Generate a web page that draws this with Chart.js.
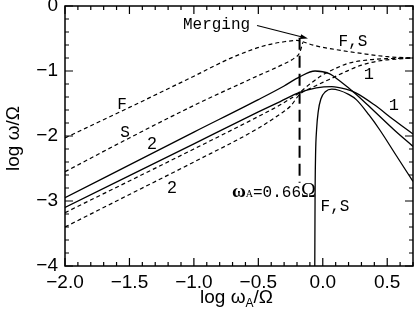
<!DOCTYPE html>
<html>
<head>
<meta charset="utf-8">
<script src="https://cdn.jsdelivr.net/npm/chart.js@4.4.1/dist/chart.umd.min.js"></script>
<style>
  html, body { margin: 0; padding: 0; background: #fff; }
</style>
</head>
<body>
<canvas id="chart" width="415" height="313"></canvas>
<script>
// x = log wA/Omega, y = log w/Omega

// upper dashed branches, merging near wA = 0.66 Omega
const fX = [-2.0, -1.5, -1.0, -0.7, -0.45, -0.3, -0.2, -0.155];
const fY = [-2.03, -1.56, -1.08, -0.79, -0.61, -0.55, -0.53, -0.55];
const sX = [-2.0, -1.5, -1.0, -0.5, -0.3, -0.22, -0.18, -0.155];
const sY = [-2.55, -2.03, -1.53, -1.07, -0.89, -0.8, -0.72, -0.56];
const fsX = [-0.155, -0.06, 0.1, 0.3, 0.5, 0.7];
const fsY = [-0.55, -0.61, -0.67, -0.73, -0.78, -0.8];

// solid curves
const aX = [-2.0, -1.0, -0.5, -0.3, -0.18, -0.06, 0.05, 0.13, 0.26, 0.4, 0.55, 0.7];
const aY = [-2.95, -1.94, -1.44, -1.23, -1.09, -1.0, -1.04, -1.15, -1.36, -1.62, -1.9, -2.16];
const bX = [-2.0, -1.0, -0.5, -0.33, -0.18, -0.05, 0.07, 0.18, 0.26, 0.4, 0.55, 0.7];
const bY = [-3.1, -2.12, -1.63, -1.47, -1.33, -1.26, -1.24, -1.28, -1.34, -1.52, -1.75, -1.97];
const eX = [-0.062, -0.06, -0.056, -0.048, -0.035, -0.015, 0.02, 0.07, 0.13, 0.2, 0.26, 0.36, 0.44, 0.57, 0.7];
const eY = [-4.0, -3.0, -2.3, -1.9, -1.62, -1.43, -1.32, -1.28, -1.3, -1.36, -1.44, -1.68, -1.9, -2.3, -2.7];

// lower dashed curves
const cX = [-2.0, -1.0, -0.5, -0.33, -0.18, -0.1, 0.0, 0.1, 0.2, 0.35, 0.5, 0.7];
const cY = [-3.18, -2.2, -1.7, -1.52, -1.33, -1.2, -1.06, -0.96, -0.88, -0.83, -0.81, -0.8];
const dX = [-2.0, -1.5, -1.0, -0.5, -0.33, -0.25, -0.18, -0.1, 0.05, 0.2, 0.3, 0.45, 0.7];
const dY = [-3.4, -2.9, -2.4, -1.88, -1.66, -1.54, -1.36, -1.27, -1.13, -0.99, -0.91, -0.84, -0.8];

// vertical marker at log 0.66
const vX = [-0.18, -0.18];
const vY = [-0.49, -2.72];

// axes
const xTicks = [-2.0, -1.5, -1.0, -0.5, 0.0, 0.5];
const yTicks = [0, -1, -2, -3, -4];
const xMinorStep = 0.1;
const yMinorStep = 0.2;

const pts = (xs, ys) => xs.map((x, i) => ({ x: x, y: ys[i] }));
const minus = v => (v < 0 ? '\u2212' : '');

function curve(xs, ys, dashed) {
  return {
    data: pts(xs, ys),
    borderColor: '#000',
    borderWidth: dashed ? 1.2 : 1.3,
    borderDash: dashed ? [4, 3] : [],
    pointRadius: 0,
    showLine: true,
    fill: false,
    cubicInterpolationMode: 'monotone',
  };
}

// text labels placed in data units
const labels = [
  { t: 'Merging', x: -1.085, y: -0.285, font: '16px "Liberation Mono"', align: 'left' },
  { t: 'F', x: -1.558, y: -1.518, font: '16px "Liberation Mono"' },
  { t: 'S', x: -1.535, y: -1.95, font: '16px "Liberation Mono"' },
  { t: '2', x: -1.325, y: -2.134, font: '17px "Liberation Sans"' },
  { t: '2', x: -1.17, y: -2.8, font: '17px "Liberation Sans"' },
  { t: 'F,S', x: 0.234, y: -0.547, font: '16px "Liberation Mono"' },
  { t: '1', x: 0.358, y: -1.055, font: '17px "Liberation Mono"' },
  { t: '1', x: 0.552, y: -1.533, font: '17px "Liberation Mono"' },
  { t: 'F,S', x: 0.095, y: -3.089, font: '16px "Liberation Mono"' },
];

function drawParts(ctx, parts, x, y) {
  let cx = x;
  parts.forEach(p => {
    ctx.font = p.font;
    ctx.fillText(p.t, cx, y + (p.dy || 0));
    cx += ctx.measureText(p.t).width;
  });
}

const framePlugin = {
  id: 'frame',
  afterDatasetsDraw(chart) {
    const { ctx, chartArea: a, scales: { x, y } } = chart;
    ctx.save();
    ctx.strokeStyle = '#000';
    ctx.fillStyle = '#000';
    ctx.lineWidth = 1.5;
    ctx.strokeRect(a.left, a.top, a.right - a.left, a.bottom - a.top);

    // inward ticks on all four sides
    ctx.lineWidth = 1.2;
    ctx.beginPath();
    for (let i = 0; -2 + i * xMinorStep <= 0.7 + 1e-9; i++) {
      const px = x.getPixelForValue(-2 + i * xMinorStep);
      const len = i % 5 === 0 ? 8 : 4;
      ctx.moveTo(px, a.bottom); ctx.lineTo(px, a.bottom - len);
      ctx.moveTo(px, a.top); ctx.lineTo(px, a.top + len);
    }
    for (let i = 0; i * yMinorStep <= 4 + 1e-9; i++) {
      const py = y.getPixelForValue(-i * yMinorStep);
      const len = i % 5 === 0 ? 8 : 4;
      ctx.moveTo(a.left, py); ctx.lineTo(a.left + len, py);
      ctx.moveTo(a.right, py); ctx.lineTo(a.right - len, py);
    }
    ctx.stroke();

    // annotation texts
    ctx.textBaseline = 'middle';
    labels.forEach(l => {
      ctx.font = l.font;
      ctx.textAlign = l.align || 'center';
      ctx.fillText(l.t, x.getPixelForValue(l.x), y.getPixelForValue(l.y));
    });

    // arrow to the merging point
    const x0 = x.getPixelForValue(-0.51), y0 = y.getPixelForValue(-0.3);
    const x1 = x.getPixelForValue(-0.115), y1 = y.getPixelForValue(-0.5);
    const ang = Math.atan2(y1 - y0, x1 - x0);
    ctx.lineWidth = 1.2;
    ctx.beginPath();
    ctx.moveTo(x0, y0);
    ctx.lineTo(x1 - 6 * Math.cos(ang), y1 - 6 * Math.sin(ang));
    ctx.stroke();
    ctx.beginPath();
    ctx.moveTo(x1, y1);
    ctx.lineTo(x1 - 8 * Math.cos(ang - 0.3), y1 - 8 * Math.sin(ang - 0.3));
    ctx.lineTo(x1 - 8 * Math.cos(ang + 0.3), y1 - 8 * Math.sin(ang + 0.3));
    ctx.closePath();
    ctx.fill();

    // omega_A = 0.66 Omega
    ctx.textAlign = 'left';
    ctx.textBaseline = 'alphabetic';
    drawParts(ctx, [
      { t: '\u03c9', font: 'bold 19px "Liberation Serif"' },
      { t: 'A', font: '10px "Liberation Serif"' },
      { t: '=0.66', font: '16px "Liberation Mono"' },
      { t: '\u03a9', font: '20px "Liberation Serif"' },
    ], x.getPixelForValue(-0.705), y.getPixelForValue(-2.935));

    // axis titles
    drawParts(ctx, [
      { t: 'log \u03c9', font: '19px "Liberation Sans"' },
      { t: 'A', font: '12px "Liberation Sans"', dy: 4 },
      { t: '/\u03a9', font: '19px "Liberation Sans"' },
    ], 200, 303);

    ctx.translate(19, 171);
    ctx.rotate(-Math.PI / 2);
    drawParts(ctx, [
      { t: 'log \u03c9/\u03a9', font: '19px "Liberation Sans"' },
    ], 0, 0);
    ctx.restore();
  }
};

new Chart(document.getElementById('chart'), {
  type: 'scatter',
  data: {
    datasets: [
      curve(fX, fY, true),
      curve(sX, sY, true),
      curve(fsX, fsY, true),
      curve(cX, cY, true),
      curve(dX, dY, true),
      curve(aX, aY, false),
      curve(bX, bY, false),
      curve(eX, eY, false),
      Object.assign(curve(vX, vY, true), {
        borderDash: [12, 6], borderWidth: 2, cubicInterpolationMode: 'default', tension: 0,
      }),
    ],
  },
  options: {
    responsive: false,
    animation: false,
    layout: { autoPadding: false, padding: { top: 6, right: 2, left: 0, bottom: 0 } },
    plugins: { legend: { display: false }, tooltip: { enabled: false } },
    scales: {
      x: {
        type: 'linear',
        min: -2,
        max: 0.7,
        grid: { display: false, drawTicks: false },
        border: { display: false },
        afterBuildTicks: s => { s.ticks = xTicks.map(v => ({ value: v })); },
        afterFit: s => { s.height = 47; s.paddingLeft = 0; s.paddingRight = 0; },
        ticks: {
          color: '#000',
          padding: 5,
          maxRotation: 0,
          font: { family: '"Liberation Sans"', size: 19 },
          callback: v => minus(v) + Math.abs(v).toFixed(1),
        },
      },
      y: {
        type: 'linear',
        min: -4,
        max: 0,
        grid: { display: false, drawTicks: false },
        border: { display: false },
        afterBuildTicks: s => { s.ticks = yTicks.map(v => ({ value: v })); },
        afterFit: s => { s.width = 65; s.paddingTop = 0; s.paddingBottom = 0; },
        ticks: {
          color: '#000',
          padding: 7,
          font: { family: '"Liberation Sans"', size: 19 },
          callback: v => minus(v) + Math.abs(v),
        },
      },
    },
  },
  plugins: [framePlugin],
});
</script>
</body>
</html>
